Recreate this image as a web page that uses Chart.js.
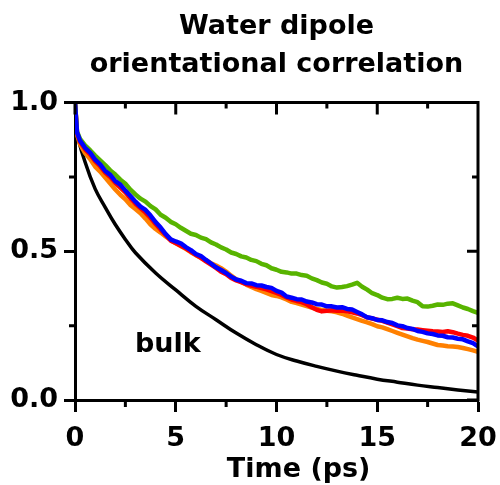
<!DOCTYPE html>
<html lang="en">
<head>
  <meta charset="UTF-8">
  <title>Water dipole orientational correlation</title>
  <script src="https://cdn.jsdelivr.net/npm/chart.js"></script>
  <style>
    body { margin: 0; background: #fff; }
    #wrap { width: 500px; height: 485px; }
  </style>
</head>
<body>
  <div id="wrap"><canvas id="corrChart"></canvas></div>

  <script>
    // time axis (ps) for the four interface curves
    const times = [0, 0.1, 0.25, 0.5, 0.75, 1, 1.25, 1.5, 1.75, 2, 2.25, 2.5, 2.75, 3, 3.25, 3.5, 3.75,
      4, 4.25, 4.5, 4.75, 5, 5.25, 5.5, 5.75, 6, 6.25, 6.5, 6.75, 7, 7.25, 7.5, 7.75,
      8, 8.25, 8.5, 8.75, 9, 9.25, 9.5, 9.75, 10, 10.25, 10.5, 10.75, 11, 11.25, 11.5, 11.75,
      12, 12.25, 12.5, 12.75, 13, 13.25, 13.5, 13.75, 14, 14.25, 14.5, 14.75, 15, 15.25, 15.5, 15.75,
      16, 16.25, 16.5, 16.75, 17, 17.25, 17.5, 17.75, 18, 18.25, 18.5, 18.75, 19, 19.25, 19.5, 19.75, 20];

    const blue = [1.000, 0.900, 0.872, 0.848, 0.832, 0.808, 0.792, 0.770, 0.757, 0.736, 0.724, 0.704, 0.686, 0.667, 0.650, 0.639, 0.620,
      0.598, 0.580, 0.558, 0.540, 0.533, 0.527, 0.514, 0.504, 0.491, 0.484, 0.471, 0.459, 0.446, 0.437, 0.427, 0.415,
      0.405, 0.401, 0.393, 0.392, 0.386, 0.385, 0.380, 0.377, 0.367, 0.361, 0.348, 0.344, 0.339, 0.338, 0.331, 0.328,
      0.322, 0.321, 0.315, 0.315, 0.311, 0.312, 0.306, 0.304, 0.296, 0.288, 0.278, 0.275, 0.269, 0.268, 0.262, 0.259,
      0.251, 0.248, 0.242, 0.239, 0.232, 0.229, 0.224, 0.222, 0.217, 0.216, 0.211, 0.210, 0.206, 0.204, 0.197, 0.191, 0.180];

    const green = [1.000, 0.902, 0.878, 0.856, 0.840, 0.822, 0.806, 0.790, 0.772, 0.758, 0.741, 0.727, 0.707, 0.691, 0.677, 0.667, 0.652,
      0.641, 0.623, 0.613, 0.599, 0.591, 0.579, 0.569, 0.559, 0.555, 0.546, 0.541, 0.530, 0.523, 0.513, 0.506, 0.496,
      0.491, 0.483, 0.479, 0.471, 0.467, 0.458, 0.453, 0.443, 0.438, 0.431, 0.429, 0.425, 0.425, 0.420, 0.418, 0.409,
      0.403, 0.395, 0.391, 0.382, 0.378, 0.380, 0.383, 0.388, 0.394, 0.381, 0.371, 0.359, 0.353, 0.344, 0.339, 0.340,
      0.344, 0.340, 0.341, 0.334, 0.329, 0.315, 0.314, 0.317, 0.321, 0.320, 0.324, 0.325, 0.318, 0.311, 0.306, 0.299, 0.293];

    const red = [1.000, 0.897, 0.868, 0.843, 0.826, 0.803, 0.786, 0.765, 0.750, 0.730, 0.714, 0.698, 0.678, 0.660, 0.645, 0.630, 0.612,
      0.592, 0.573, 0.555, 0.536, 0.528, 0.519, 0.510, 0.499, 0.488, 0.478, 0.466, 0.455, 0.444, 0.431, 0.423, 0.410,
      0.402, 0.396, 0.390, 0.385, 0.381, 0.376, 0.372, 0.366, 0.360, 0.353, 0.345, 0.338, 0.333, 0.329, 0.322, 0.312,
      0.303, 0.298, 0.300, 0.302, 0.300, 0.301, 0.298, 0.295, 0.291, 0.285, 0.278, 0.274, 0.270, 0.266, 0.260, 0.254,
      0.248, 0.242, 0.240, 0.238, 0.237, 0.235, 0.233, 0.231, 0.230, 0.229, 0.231, 0.228, 0.223, 0.219, 0.216, 0.210, 0.200];

    const orange = [1.000, 0.893, 0.860, 0.830, 0.810, 0.785, 0.768, 0.748, 0.728, 0.708, 0.690, 0.675, 0.656, 0.642, 0.628, 0.610, 0.590,
      0.575, 0.563, 0.550, 0.538, 0.527, 0.518, 0.508, 0.497, 0.487, 0.478, 0.470, 0.460, 0.452, 0.443, 0.432, 0.418,
      0.406, 0.397, 0.388, 0.380, 0.373, 0.367, 0.360, 0.353, 0.350, 0.345, 0.338, 0.330, 0.326, 0.321, 0.316, 0.311,
      0.306, 0.303, 0.300, 0.298, 0.295, 0.290, 0.284, 0.278, 0.272, 0.266, 0.261, 0.255, 0.248, 0.244, 0.238, 0.232,
      0.226, 0.220, 0.214, 0.208, 0.203, 0.199, 0.195, 0.190, 0.185, 0.183, 0.181, 0.180, 0.178, 0.175, 0.171, 0.167, 0.162];

    // bulk water, smooth curve
    const bulkTimes = [0, 0.1, 0.5, 1, 1.5, 2, 2.5, 3, 4, 5, 6, 7, 8, 9, 10, 11, 12, 13, 14, 15, 16, 17, 18, 19, 20];
    const bulk = [1.0, 0.90, 0.80, 0.71, 0.648, 0.59, 0.54, 0.495, 0.427, 0.37, 0.315, 0.27, 0.225, 0.186, 0.153,
      0.131, 0.113, 0.097, 0.083, 0.07, 0.06, 0.05, 0.042, 0.034, 0.027];

    const xTicks = [0, 5, 10, 15, 20];
    const xMinor = [2.5, 7.5, 12.5, 17.5];
    const yTicks = [0, 0.5, 1.0];
    const yMinor = [0.25, 0.75];

    const FONT = '"DejaVu Sans", sans-serif';

    const pts = (xs, ys) => xs.map((t, i) => ({ x: t, y: ys[i] }));

    // box frame on top/right with inward ticks, minor outward ticks, labels
    const framePlugin = {
      id: 'frame',
      afterDraw(chart) {
        const { ctx, chartArea: a, scales: { x, y } } = chart;
        ctx.save();
        ctx.strokeStyle = '#000';
        ctx.lineWidth = 3;
        ctx.lineCap = 'butt';
        ctx.beginPath();
        ctx.moveTo(a.left - 1.5, a.top);
        ctx.lineTo(a.right, a.top);
        ctx.lineTo(a.right, a.bottom + 1.5);
        xTicks.forEach(v => {
          const px = x.getPixelForValue(v);
          ctx.moveTo(px, a.top); ctx.lineTo(px, a.top + 12);
        });
        xMinor.forEach(v => {
          const px = x.getPixelForValue(v);
          ctx.moveTo(px, a.top); ctx.lineTo(px, a.top + 6);
          ctx.moveTo(px, a.bottom); ctx.lineTo(px, a.bottom + 7);
        });
        yTicks.forEach(v => {
          const py = y.getPixelForValue(v);
          ctx.moveTo(a.right, py); ctx.lineTo(a.right - 11, py);
        });
        yMinor.forEach(v => {
          const py = y.getPixelForValue(v);
          ctx.moveTo(a.right, py); ctx.lineTo(a.right - 6, py);
          ctx.moveTo(a.left, py); ctx.lineTo(a.left - 6, py);
        });
        ctx.stroke();

        ctx.fillStyle = '#000';
        ctx.font = 'bold 27px ' + FONT;
        ctx.textBaseline = 'alphabetic';
        ctx.textAlign = 'left';
        ctx.fillText('bulk', x.getPixelForValue(2.98), y.getPixelForValue(0.16));
        ctx.textAlign = 'center';
        ctx.fillText('Time (ps)', x.getPixelForValue(11.1), a.bottom + 77);
        ctx.restore();
      }
    };

    const ctx = document.getElementById('corrChart').getContext('2d');
    new Chart(ctx, {
      type: 'line',
      data: {
        datasets: [
          { label: 'blue', data: pts(times, blue), borderColor: '#0000ff', borderWidth: 4.5 },
          { label: 'green', data: pts(times, green), borderColor: '#58b400', borderWidth: 4.5 },
          { label: 'red', data: pts(times, red), borderColor: '#ff0000', borderWidth: 4.5 },
          { label: 'orange', data: pts(times, orange), borderColor: '#ff8000', borderWidth: 4.5 },
          { label: 'bulk', data: pts(bulkTimes, bulk), borderColor: '#000000', borderWidth: 3.5, tension: 0.4 }
        ]
      },
      options: {
        responsive: true,
        maintainAspectRatio: false,
        animation: false,
        devicePixelRatio: 1,
        layout: { padding: { top: 0, right: 22, bottom: 0, left: 0 } },
        elements: {
          point: { radius: 0 },
          line: { tension: 0, borderJoinStyle: 'round', borderCapStyle: 'round' }
        },
        plugins: {
          legend: { display: false },
          tooltip: { enabled: false },
          title: {
            display: true,
            fullSize: false,
            text: ['Water dipole', 'orientational correlation'],
            color: '#000',
            font: { family: FONT, size: 27, weight: 'bold', lineHeight: 1.4 },
            padding: { top: 8, bottom: 19 }
          }
        },
        scales: {
          x: {
            type: 'linear',
            min: 0,
            max: 20,
            afterBuildTicks: s => { s.ticks = xTicks.map(v => ({ value: v })); },
            afterFit: s => { s.height = 85; s.paddingLeft = 0; s.paddingRight = 0; },
            ticks: {
              color: '#000',
              font: { family: FONT, size: 27, weight: 'bold' },
              padding: 11,
              maxRotation: 0,
              autoSkip: false
            },
            grid: { drawOnChartArea: false, tickLength: 12, tickWidth: 3, tickColor: '#000' },
            border: { display: true, color: '#000', width: 3 }
          },
          y: {
            min: 0,
            max: 1,
            afterBuildTicks: s => { s.ticks = yTicks.map(v => ({ value: v })); },
            afterFit: s => { s.width = 75; },
            ticks: {
              color: '#000',
              font: { family: FONT, size: 27, weight: 'bold' },
              padding: 6,
              callback: v => v.toFixed(1)
            },
            grid: { drawOnChartArea: false, tickLength: 11, tickWidth: 3, tickColor: '#000' },
            border: { display: true, color: '#000', width: 3 }
          }
        }
      },
      plugins: [framePlugin]
    });
  </script>
</body>
</html>
